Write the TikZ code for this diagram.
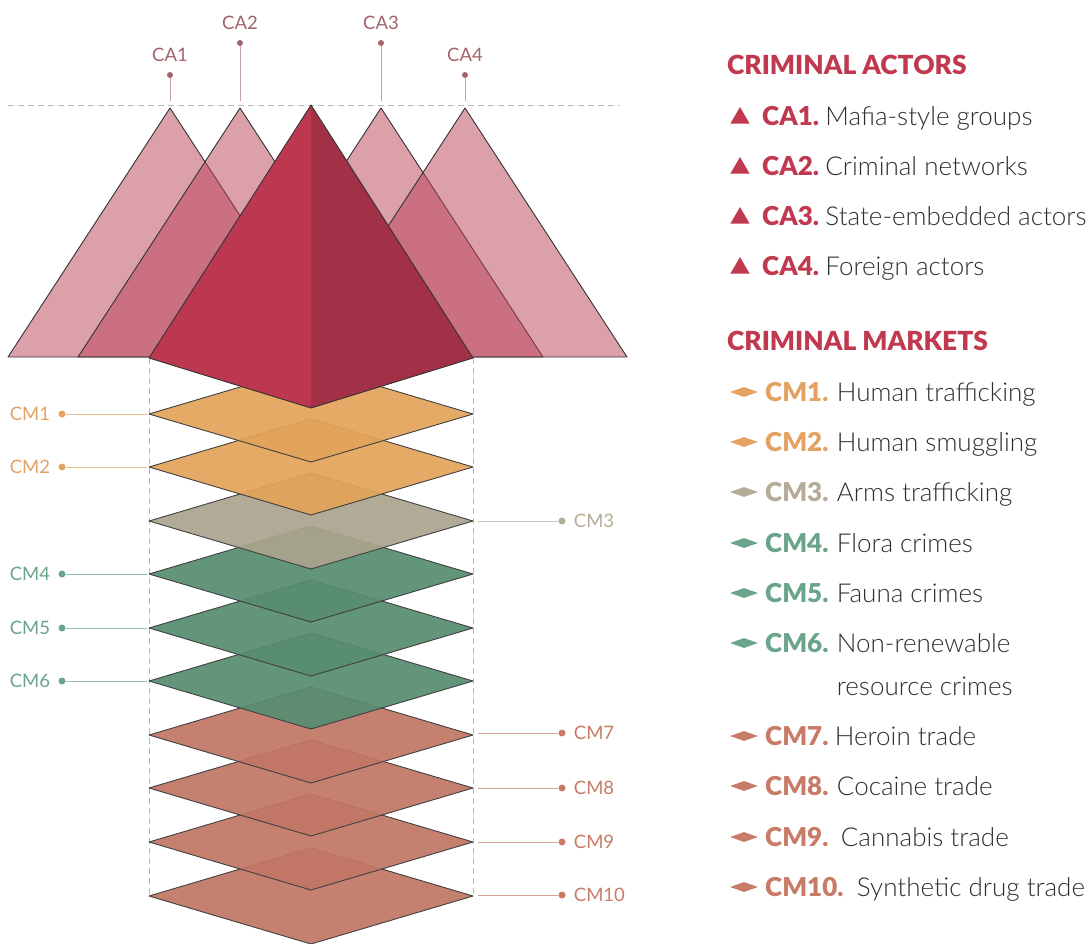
\documentclass[tikz,border=0pt]{standalone}
\usepackage{fontspec}
\setmainfont{Lato}[BoldFont={Lato Black}]
\newfontfamily\lightfont{Lato Light}
\usetikzlibrary{positioning,calc,shapes.geometric}

\definecolor{headred}{HTML}{C0394F}
\definecolor{pinkca}{HTML}{B94157}
\definecolor{pyrleft}{HTML}{BC3850}
\definecolor{pyrright}{HTML}{A23047}
\definecolor{calabel}{HTML}{A2636C}
\definecolor{textgray}{HTML}{2E2E2E}
% layer fills
\definecolor{orangefill}{HTML}{E2A45A}
\definecolor{tanfill}{HTML}{ABA48F}
\definecolor{greenfill}{HTML}{578D71}
\definecolor{salmonfill}{HTML}{C27665}
% label colours
\definecolor{orangecm}{HTML}{E3A162}
\definecolor{tancm}{HTML}{B4AC96}
\definecolor{greencm}{HTML}{6AA48A}
\definecolor{salmoncm}{HTML}{C87B67}

\begin{document}
\begin{tikzpicture}[x=1pt,y=-1pt,
  actor/.style={draw=black!80,line width=0.9pt,line join=round,fill=pinkca,fill opacity=0.5},
  layer/.style={draw=black!75,line width=0.9pt,line join=round,fill opacity=0.93},
  guide/.style={draw=black!28,line width=0.8pt,dash pattern=on 6pt off 4pt},
  pin/.style={circle,inner sep=0pt,minimum size=7pt},
  tag/.style={font=\fontsize{18.5}{22}\selectfont,inner sep=0pt},
  head/.style={font=\fontsize{26.3}{30}\selectfont\bfseries,text=headred,anchor=base west,inner sep=0pt},
  key/.style={font=\fontsize{26}{30}\selectfont\bfseries,anchor=base west,inner sep=0pt},
  entry/.style={font=\fontsize{26}{30}\lightfont,text=textgray,anchor=base west,inner sep=0pt}]

  \useasboundingbox (0,0) rectangle (1089,943);

  % guide lines
  \draw[guide] (8,105) -- (620,105);
  \draw[guide] (149,358) -- (149,895);
  \draw[guide] (473,358) -- (473,895);

  % market layers, bottom first
  \foreach \i/\c/\col in {10/896/salmonfill,9/842/salmonfill,8/788/salmonfill,7/735/salmonfill,
      6/681/greenfill,5/628/greenfill,4/574/greenfill,3/521/tanfill,2/467/orangefill,1/414/orangefill}{
    \draw[layer,fill=\col] (311,\c-48) -- (473,\c) -- (311,\c+48) -- (149,\c) -- cycle;
    \coordinate (W\i) at (149,\c);
    \coordinate (E\i) at (473,\c);
  }

  % layer tags
  \foreach \i/\c/\col in {1/414/orangecm,2/467/orangecm,4/574/greencm,5/628/greencm,6/681/greencm}{
    \node[pin,fill=\col] (p\i) at (62,\c) {};
    \node[tag,text=\col,left=8pt of p\i] {CM\i};
    \draw[\col!70,line width=1pt] (p\i) -- ([xshift=-2pt]W\i);
  }
  \foreach \i/\c/\col in {3/521/tancm,7/733/salmoncm,8/788/salmoncm,9/842/salmoncm,10/895/salmoncm}{
    \node[pin,fill=\col] (p\i) at (562,\c) {};
    \node[tag,text=\col,right=8pt of p\i] {CM\i};
    \draw[\col!70,line width=1pt] ([xshift=5pt]E\i |- p\i) -- (p\i);
  }

  % actor triangles
  \foreach \i/\x in {1/170,2/240,3/381,4/465}{
    \draw[actor] (\x,108) coordinate (a\i) -- (\x+162,357) -- (\x-162,357) -- cycle;
  }
  \foreach \i/\x/\y in {1/170/75,2/240/43,3/381/43,4/465/75}{
    \node[pin,fill=calabel,minimum size=6pt] (q\i) at (\x,\y) {};
    \node[tag,text=calabel,above=10pt of q\i] {CA\i};
    \draw[calabel!60,line width=1pt] (q\i) -- ([yshift=7pt]a\i);
  }

  % pyramid
  \coordinate (top) at (311,105);
  \coordinate (pl) at (149,358);
  \coordinate (pr) at (473,358);
  \coordinate (pb) at (311,408);
  \fill[pyrleft] (top) -- (pl) -- (pb) -- cycle;
  \fill[pyrright] (top) -- (pb) -- (pr) -- cycle;
  \draw[black!80,line width=0.9pt,line join=round] (top) -- (pl) -- (pb) -- (pr) -- cycle;

  % legend: actors
  \node[head] (hca) at (727,74) {CRIMINAL ACTORS};
  \foreach \i/\y/\txt in {1/116/Mafia-style groups,2/166/Criminal networks,
      3/216/State-embedded actors,4/266/Foreign actors}{
    \node[regular polygon,regular polygon sides=3,fill=headred,inner sep=0pt,minimum size=22pt] (t\i) at (740,\y+2) {};
    \node[key,text=headred] (k\i) at (762,\y+9) {CA\i.};
    \node[entry] at ([xshift=6pt]k\i.base east) {\txt};
  }

  % legend: markets
  \node[head] (hcm) at (727,350) {CRIMINAL MARKETS};
  \foreach \i/\y/\col/\gap/\txt in {1/392/orangecm/8/Human trafficking,2/442/orangecm/8/Human smuggling,
      3/492/tancm/8/Arms trafficking,4/543/greencm/8/Flora crimes,5/593/greencm/8/Fauna crimes,
      6/643/greencm/8/Non-renewable,7/736/salmoncm/6/Heroin trade,8/786/salmoncm/8/Cocaine trade,
      9/837/salmoncm/12/Cannabis trade,10/887/salmoncm/13/Synthetic drug trade}{
    \node[diamond,fill=\col,inner sep=0pt,minimum width=28pt,minimum height=10pt] (d\i) at (744,\y) {};
    \node[key,text=\col] (m\i) at (765,\y+9) {CM\i.};
    \node[entry] (n\i) at ([xshift=\gap pt]m\i.base east) {\txt};
  }
  \node[entry] (n6b) at (n6.base west |- 0,695) {resource crimes};
\end{tikzpicture}
\end{document}
